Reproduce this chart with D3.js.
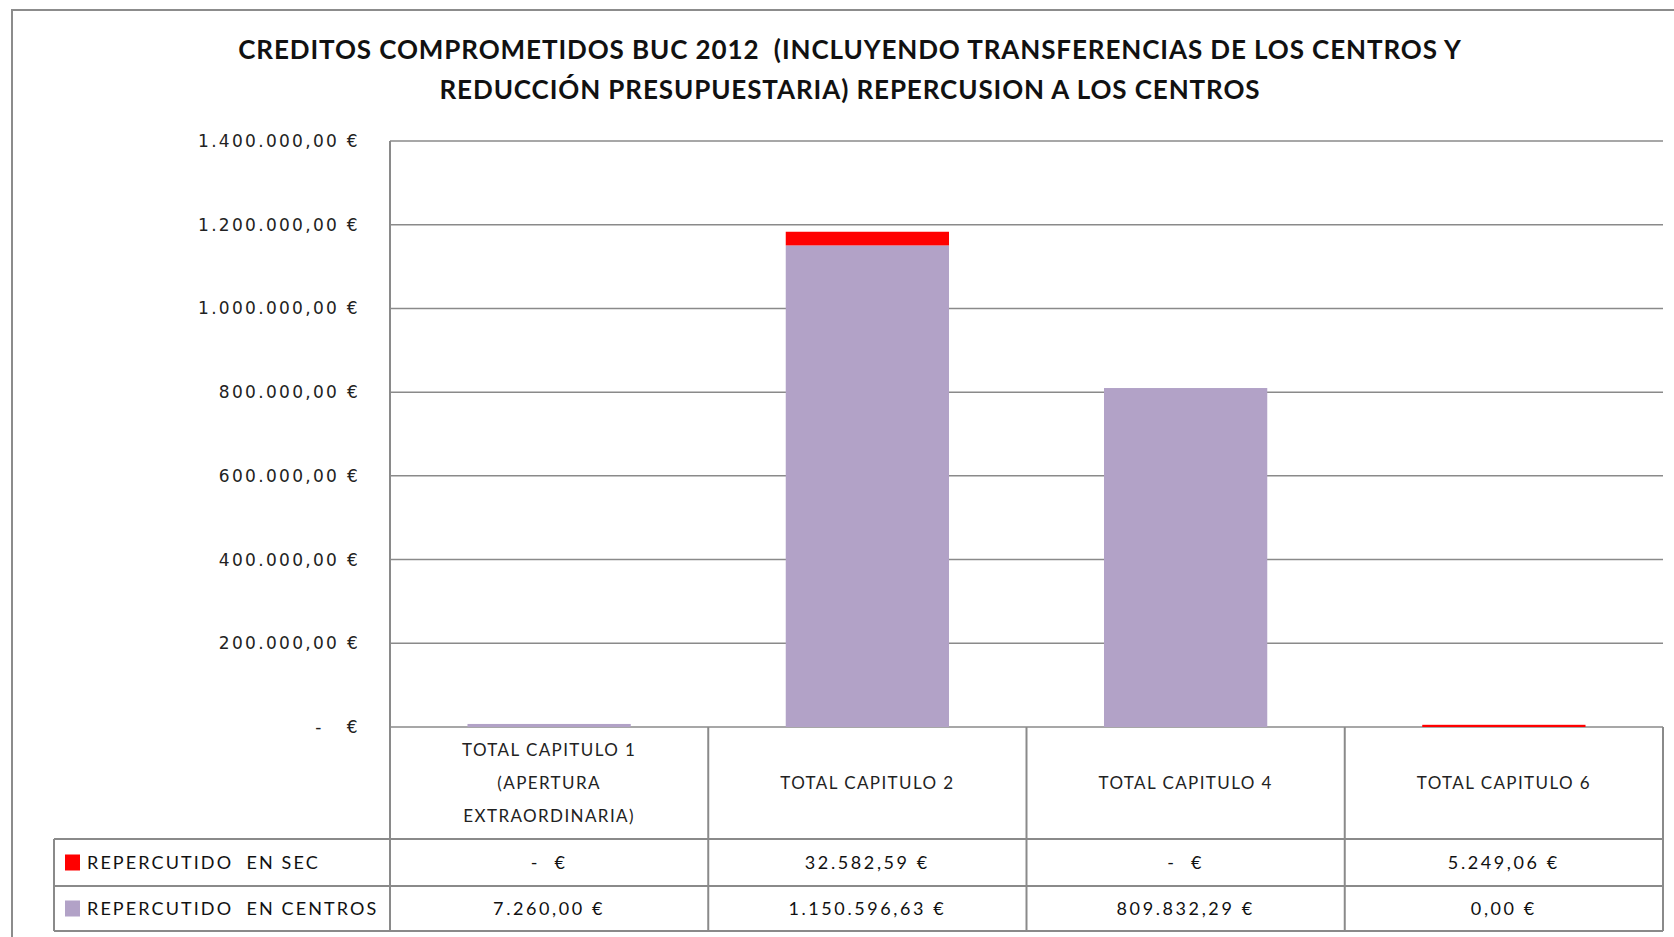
<!DOCTYPE html>
<html>
<head>
<meta charset="utf-8">
<script src="https://cdn.jsdelivr.net/npm/d3@7"></script>
<style>
  body { margin: 0; background: #fff; }
  svg { display: block; }
  svg text { white-space: pre; }
</style>
</head>
<body>
<div id="chart"></div>
<script>
// chart data
const categories = ["TOTAL CAPITULO 1", "TOTAL CAPITULO 2", "TOTAL CAPITULO 4", "TOTAL CAPITULO 6"];
const categoryLines = [
  ["TOTAL CAPITULO 1", "(APERTURA", "EXTRAORDINARIA)"],
  ["TOTAL CAPITULO 2"],
  ["TOTAL CAPITULO 4"],
  ["TOTAL CAPITULO 6"]
];
const seriesNames = ["REPERCUTIDO  EN SEC", "REPERCUTIDO  EN CENTROS"];
const secValues = [null, 32582.59, null, 5249.06];          // null = shown as "-  €"
const centrosValues = [7260.00, 1150596.63, 809832.29, 0.00];
const yTicks = [0, 200000, 400000, 600000, 800000, 1000000, 1200000, 1400000];
const titleLines = [
  "CREDITOS COMPROMETIDOS BUC 2012  (INCLUYENDO TRANSFERENCIAS DE LOS CENTROS Y",
  "REDUCCIÓN PRESUPUESTARIA) REPERCUSION A LOS CENTROS"
];

const colors = { sec: "#ff0000", centros: "#b2a2c7" };
const lineColor = "#8a8a8a";

const W = 1674, H = 937;
const plot = { left: 390, right: 1663, top: 141, bottom: 727 };
const table = { left: 54, headerBottom: 839, row1Bottom: 886, row2Bottom: 931 };

// euro formatting, spanish style
const es = d3.formatLocale({ decimal: ",", thousands: ".", grouping: [3], currency: ["", " €"] });
const money = es.format(",.2f");
function euro(v) {
  if (v === null) return "-  €";
  return money(v) + " €";
}

const svg = d3.select("#chart").append("svg")
  .attr("width", W)
  .attr("height", H);

// outer frame of the chart object
svg.append("rect")
  .attr("x", 12).attr("y", 10)
  .attr("width", W).attr("height", H)
  .attr("fill", "none")
  .attr("stroke", "#8c8c8c")
  .attr("stroke-width", 2);

// title
const title = svg.append("text")
  .attr("text-anchor", "middle")
  .attr("font-family", "Lato, 'Open Sans', sans-serif")
  .attr("font-weight", "bold")
  .attr("font-size", 26)
  .attr("letter-spacing", 0.9)
  .attr("fill", "#111");
titleLines.forEach((t, i) => {
  title.append("tspan")
    .attr("x", 850)
    .attr("y", 59 + i * 40)
    .text(t);
});

// scales
const x = d3.scaleBand()
  .domain(categories)
  .range([plot.left, plot.right]);

const y = d3.scaleLinear()
  .domain([0, 1400000])
  .range([plot.bottom, plot.top]);

// gridlines
svg.append("g")
  .selectAll("line")
  .data(yTicks)
  .join("line")
  .attr("x1", plot.left)
  .attr("x2", plot.right)
  .attr("y1", d => y(d))
  .attr("y2", d => y(d))
  .attr("stroke", lineColor)
  .attr("stroke-width", 1.5);

// y axis labels
const yAxis = svg.append("g")
  .attr("transform", `translate(${plot.left - 30},0)`)
  .call(d3.axisLeft(y).tickValues(yTicks).tickSize(0).tickPadding(0)
    .tickFormat(d => d === 0 ? "-   €" : euro(d)));
yAxis.select(".domain").remove();
yAxis.selectAll("text")
  .attr("font-family", "'DejaVu Sans', Verdana, sans-serif")
  .attr("font-size", 17)
  .attr("letter-spacing", 2.3)
  .attr("fill", "#222");

// stacked bars
const barW = x.bandwidth() * 0.513;
const stacked = categories.map((c, i) => {
  const a = centrosValues[i] || 0;
  const b = secValues[i] || 0;
  return { cat: c, centros: [0, a], sec: [a, a + b] };
});

const bars = svg.append("g");
bars.selectAll("rect.centros")
  .data(stacked)
  .join("rect")
  .attr("class", "centros")
  .attr("x", d => x(d.cat) + (x.bandwidth() - barW) / 2)
  .attr("width", barW)
  .attr("y", d => y(d.centros[1]))
  .attr("height", d => y(d.centros[0]) - y(d.centros[1]))
  .attr("fill", colors.centros);

bars.selectAll("rect.sec")
  .data(stacked.filter(d => d.sec[1] > d.sec[0]))
  .join("rect")
  .attr("class", "sec")
  .attr("x", d => x(d.cat) + (x.bandwidth() - barW) / 2)
  .attr("width", barW)
  .attr("y", d => y(d.sec[1]))
  .attr("height", d => y(d.sec[0]) - y(d.sec[1]))
  .attr("fill", colors.sec);

// data table under the plot
const grid = svg.append("g")
  .attr("stroke", lineColor)
  .attr("stroke-width", 2);

// vertical axis line continues down into the table
grid.append("line")
  .attr("x1", plot.left).attr("x2", plot.left)
  .attr("y1", plot.top).attr("y2", table.row2Bottom);

// column separators
const colEdges = categories.map(c => x(c) + x.bandwidth());
grid.selectAll("line.col")
  .data(colEdges)
  .join("line")
  .attr("class", "col")
  .attr("x1", d => d).attr("x2", d => d)
  .attr("y1", plot.bottom).attr("y2", table.row2Bottom);

// row lines
[table.headerBottom, table.row1Bottom, table.row2Bottom].forEach(yy => {
  grid.append("line")
    .attr("x1", table.left).attr("x2", plot.right)
    .attr("y1", yy).attr("y2", yy);
});
grid.append("line")
  .attr("x1", table.left).attr("x2", table.left)
  .attr("y1", table.headerBottom).attr("y2", table.row2Bottom);

const cellFont = "Lato, 'Open Sans', sans-serif";

// header cells
const headerMid = (plot.bottom + table.headerBottom) / 2;
categories.forEach((c, i) => {
  const lines = categoryLines[i];
  const t = svg.append("text")
    .attr("text-anchor", "middle")
    .attr("font-family", cellFont)
    .attr("font-size", 17)
    .attr("letter-spacing", 1.4)
    .attr("fill", "#222");
  lines.forEach((l, j) => {
    t.append("tspan")
      .attr("x", x(c) + x.bandwidth() / 2)
      .attr("y", headerMid + (j - (lines.length - 1) / 2) * 33 + 6)
      .text(l);
  });
});

// series rows
const rows = [
  { name: seriesNames[0], color: colors.sec, values: secValues, top: table.headerBottom, bottom: table.row1Bottom },
  { name: seriesNames[1], color: colors.centros, values: centrosValues, top: table.row1Bottom, bottom: table.row2Bottom }
];

rows.forEach(r => {
  const mid = (r.top + r.bottom) / 2;
  svg.append("rect")
    .attr("x", 65).attr("y", mid - 8)
    .attr("width", 15).attr("height", 16)
    .attr("fill", r.color);
  svg.append("text")
    .attr("x", 87).attr("y", mid + 6)
    .attr("font-family", cellFont)
    .attr("font-size", 18)
    .attr("letter-spacing", 2.1)
    .attr("fill", "#111")
    .text(r.name);
  svg.append("g")
    .selectAll("text")
    .data(categories)
    .join("text")
    .attr("x", c => x(c) + x.bandwidth() / 2)
    .attr("y", mid + 6)
    .attr("text-anchor", "middle")
    .attr("font-family", cellFont)
    .attr("font-size", 18)
    .attr("letter-spacing", 2.6)
    .attr("fill", "#111")
    .text((c, i) => euro(r.values[i]));
});
</script>
</body>
</html>
